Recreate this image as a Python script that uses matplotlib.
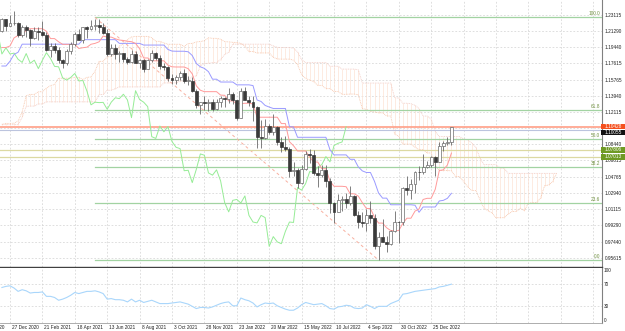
import matplotlib
matplotlib.use("Agg")
import matplotlib.pyplot as plt
import numpy as np
from matplotlib.patches import Rectangle
from matplotlib.transforms import blended_transform_factory, ScaledTranslation

plt.rcParams['font.family'] = ['Liberation Sans', 'DejaVu Sans']

# ---------------- data (weekly bars, week 0 = 27 Dec 2020) ----------------
first_week = -2
opens = [1.2120, 1.2255, 1.2185, 1.2215, 1.2220, 1.2075, 1.2170, 1.2135, 1.2045, 1.2120,
         1.2118, 1.2075, 1.1915, 1.1950, 1.1905, 1.1795, 1.1765, 1.1900, 1.1980, 1.2095,
         1.2020, 1.2165, 1.2145, 1.2180, 1.2190, 1.2165, 1.2105, 1.1865, 1.1935, 1.1865,
         1.1875, 1.1805, 1.1770, 1.1870, 1.1760, 1.1795, 1.1700, 1.1795, 1.1880, 1.1815,
         1.1725, 1.1720, 1.1595, 1.1570, 1.1600, 1.1645, 1.1560, 1.1565, 1.1445, 1.1290,
         1.1320, 1.1315, 1.1318, 1.1240, 1.1320, 1.1370, 1.1360, 1.1410, 1.1345, 1.1145,
         1.1450, 1.1350, 1.1320, 1.1270, 1.0930, 1.0910, 1.1050, 1.0985, 1.1045, 1.0875,
         1.0810, 1.0795, 1.0545, 1.0550, 1.0410, 1.0560, 1.0735, 1.0720, 1.0520, 1.0495,
         1.0555, 1.0430, 1.0185, 1.0080, 1.0210, 1.0220, 1.0180, 1.0260, 1.0040, 0.9965,
         0.9955, 1.0040, 1.0015, 0.9690, 0.9800, 0.9740, 0.9720, 0.9860, 0.9965, 0.9960,
         1.0355, 1.0325, 1.0400, 1.0535, 1.0530, 1.0585, 1.0615, 1.0705, 1.0645, 1.0830,
         1.0855, 1.0870]
highs = [1.2273, 1.2260, 1.2310, 1.2349, 1.2223, 1.2190, 1.2190, 1.2150, 1.2170, 1.2170,
         1.2243, 1.2114, 1.1990, 1.1990, 1.1945, 1.1805, 1.1927, 1.1995, 1.2115, 1.2150,
         1.2167, 1.2180, 1.2245, 1.2266, 1.2255, 1.2218, 1.2145, 1.1975, 1.1975, 1.1895,
         1.1880, 1.1835, 1.1910, 1.1900, 1.1805, 1.1805, 1.1810, 1.1910, 1.1885, 1.1850,
         1.1760, 1.1725, 1.1640, 1.1625, 1.1670, 1.1692, 1.1615, 1.1610, 1.1465, 1.1325,
         1.1385, 1.1355, 1.1360, 1.1360, 1.1385, 1.1375, 1.1483, 1.1440, 1.1350, 1.1483,
         1.1495, 1.1395, 1.1395, 1.1275, 1.1120, 1.1135, 1.1070, 1.1185, 1.1050, 1.0925,
         1.0935, 1.0810, 1.0640, 1.0575, 1.0605, 1.0765, 1.0785, 1.0775, 1.0600, 1.0605,
         1.0615, 1.0465, 1.0190, 1.0280, 1.0255, 1.0295, 1.0370, 1.0265, 1.0090, 1.0080,
         1.0115, 1.0200, 1.0050, 0.9855, 0.9999, 0.9810, 0.9875, 1.0095, 0.9980, 1.0365,
         1.0480, 1.0450, 1.0545, 1.0595, 1.0735, 1.0660, 1.0715, 1.0710, 1.0870, 1.0885,
         1.0930, 1.1045]
lows = [1.2115, 1.2130, 1.2180, 1.2195, 1.2055, 1.2054, 1.2060, 1.1952, 1.2035, 1.2023,
        1.2070, 1.1894, 1.1835, 1.1873, 1.1762, 1.1704, 1.1740, 1.1870, 1.1950, 1.2020,
        1.1985, 1.2050, 1.2140, 1.2135, 1.2105, 1.2095, 1.1845, 1.1847, 1.1807, 1.1780,
        1.1770, 1.1752, 1.1760, 1.1760, 1.1705, 1.1665, 1.1695, 1.1780, 1.1800, 1.1700,
        1.1685, 1.1565, 1.1530, 1.1525, 1.1570, 1.1535, 1.1513, 1.1430, 1.1250, 1.1185,
        1.1235, 1.1225, 1.1222, 1.1235, 1.1270, 1.1270, 1.1315, 1.1300, 1.1121, 1.1140,
        1.1345, 1.1280, 1.1105, 1.0805, 1.0805, 1.0900, 1.0960, 1.0945, 1.0835, 1.0760,
        1.0770, 1.0470, 1.0490, 1.0350, 1.0390, 1.0550, 1.0630, 1.0500, 1.0360, 1.0470,
        1.0365, 1.0070, 0.9952, 1.0075, 1.0095, 1.0125, 1.0160, 1.0035, 0.9900, 0.9910,
        0.9865, 0.9955, 0.9665, 0.9535, 0.9735, 0.9630, 0.9705, 0.9855, 0.9730, 0.9935,
        1.0270, 1.0225, 1.0290, 1.0445, 1.0505, 1.0575, 1.0590, 1.0480, 1.0640, 1.0765,
        1.0835, 1.0840]
closes = [1.2255, 1.2185, 1.2215, 1.2220, 1.2075, 1.2170, 1.2135, 1.2045, 1.2120, 1.2118,
          1.2075, 1.1915, 1.1950, 1.1905, 1.1795, 1.1765, 1.1900, 1.1980, 1.2095, 1.2020,
          1.2165, 1.2145, 1.2180, 1.2190, 1.2165, 1.2105, 1.1865, 1.1935, 1.1865, 1.1875,
          1.1805, 1.1770, 1.1870, 1.1760, 1.1795, 1.1700, 1.1795, 1.1880, 1.1815, 1.1725,
          1.1720, 1.1595, 1.1570, 1.1600, 1.1645, 1.1560, 1.1565, 1.1445, 1.1290, 1.1320,
          1.1315, 1.1318, 1.1240, 1.1320, 1.1370, 1.1360, 1.1410, 1.1345, 1.1145, 1.1450,
          1.1350, 1.1320, 1.1270, 1.0930, 1.0910, 1.1050, 1.0985, 1.1045, 1.0875, 1.0810,
          1.0795, 1.0545, 1.0550, 1.0410, 1.0560, 1.0735, 1.0720, 1.0520, 1.0495, 1.0555,
          1.0430, 1.0185, 1.0080, 1.0210, 1.0220, 1.0180, 1.0260, 1.0040, 0.9965, 0.9955,
          1.0040, 1.0015, 0.9690, 0.9800, 0.9740, 0.9720, 0.9860, 0.9965, 0.9960, 1.0355,
          1.0325, 1.0400, 1.0535, 1.0530, 1.0585, 1.0615, 1.0705, 1.0645, 1.0830, 1.0855,
          1.0870, 1.1043]

tenkan = [1.1938, 1.1938, 1.1956, 1.2047, 1.2075, 1.2075, 1.2137, 1.2151, 1.2151, 1.2151,
          1.2151, 1.2122, 1.2039, 1.2039, 1.2003, 1.1974, 1.1974, 1.1974, 1.1974, 1.1927,
          1.1936, 1.1942, 1.1975, 1.1985, 1.2003, 1.2068, 1.2056, 1.2056, 1.2037, 1.2023,
          1.2018, 1.2009, 1.2004, 1.1985, 1.1925, 1.1820, 1.1820, 1.1788, 1.1788, 1.1788,
          1.1788, 1.1738, 1.1720, 1.1718, 1.1718, 1.1718, 1.1699, 1.1640, 1.1505, 1.1455,
          1.1439, 1.1439, 1.1439, 1.1439, 1.1400, 1.1398, 1.1334, 1.1334, 1.1302, 1.1302,
          1.1308, 1.1308, 1.1300, 1.1150, 1.1150, 1.1150, 1.1150, 1.1150, 1.1150, 1.1078,
          1.1078, 1.0873, 1.0828, 1.0768, 1.0768, 1.0768, 1.0700, 1.0643, 1.0643, 1.0568,
          1.0568, 1.0428, 1.0369, 1.0369, 1.0369, 1.0364, 1.0284, 1.0284, 1.0258, 1.0183,
          1.0118, 1.0118, 1.0018, 0.9953, 0.9953, 0.9900, 0.9868, 0.9868, 0.9868, 0.9950,
          1.0008, 1.0008, 1.0088, 1.0113, 1.0220, 1.0233, 1.0233, 1.0335, 1.0548, 1.0555,
          1.0610, 1.0745]
kijun = [1.1729, 1.1729, 1.1783, 1.1860, 1.1885, 1.1976, 1.1976, 1.1976, 1.1976, 1.1976,
         1.1976, 1.1976, 1.1976, 1.1976, 1.1976, 1.1976, 1.1976, 1.1976, 1.1976, 1.1976,
         1.2027, 1.2027, 1.2027, 1.2027, 1.2027, 1.2027, 1.2027, 1.2027, 1.2027, 1.1985,
         1.1985, 1.1985, 1.1985, 1.1985, 1.1985, 1.1966, 1.1966, 1.1966, 1.1966, 1.1966,
         1.1966, 1.1916, 1.1898, 1.1896, 1.1896, 1.1896, 1.1890, 1.1848, 1.1758, 1.1720,
         1.1702, 1.1665, 1.1580, 1.1580, 1.1548, 1.1548, 1.1548, 1.1548, 1.1516, 1.1516,
         1.1516, 1.1516, 1.1508, 1.1345, 1.1328, 1.1283, 1.1265, 1.1249, 1.1249, 1.1249,
         1.1249, 1.1043, 1.1040, 1.0923, 1.0923, 1.0923, 1.0923, 1.0923, 1.0923, 1.0923,
         1.0923, 1.0783, 1.0724, 1.0724, 1.0724, 1.0724, 1.0674, 1.0674, 1.0588, 1.0543,
         1.0525, 1.0525, 1.0425, 1.0293, 1.0235, 1.0235, 1.0160, 1.0160, 1.0160, 1.0160,
         1.0160, 1.0160, 1.0155, 1.0075, 1.0135, 1.0135, 1.0135, 1.0135, 1.0203, 1.0210,
         1.0233, 1.0290]
span_a = [1.1070, 1.1080, 1.1080, 1.1083, 1.1106, 1.1210, 1.1392, 1.1408, 1.1408, 1.1438,
          1.1438, 1.1479, 1.1507, 1.1520, 1.1591, 1.1591, 1.1591, 1.1591, 1.1601, 1.1601,
          1.1576, 1.1601, 1.1605, 1.1672, 1.1782, 1.1782, 1.1834, 1.1834, 1.1870, 1.1954,
          1.1980, 1.2026, 1.2057, 1.2064, 1.2064, 1.2064, 1.2064, 1.2049, 1.2008, 1.2008,
          1.1990, 1.1975, 1.1975, 1.1975, 1.1975, 1.1952, 1.1982, 1.1985, 1.2001, 1.2006,
          1.2015, 1.2048, 1.2042, 1.2042, 1.2032, 1.2004, 1.2002, 1.1997, 1.1995, 1.1985,
          1.1955, 1.1893, 1.1893, 1.1877, 1.1877, 1.1877, 1.1877, 1.1827, 1.1809, 1.1807,
          1.1807, 1.1807, 1.1795, 1.1744, 1.1632, 1.1588, 1.1571, 1.1552, 1.1510, 1.1510,
          1.1474, 1.1473, 1.1441, 1.1441, 1.1409, 1.1409, 1.1412, 1.1412, 1.1404, 1.1248,
          1.1239, 1.1217, 1.1208, 1.1200, 1.1200, 1.1164, 1.1164, 1.0958, 1.0934, 1.0846,
          1.0846, 1.0846, 1.0812, 1.0783, 1.0783, 1.0746, 1.0746, 1.0606, 1.0547, 1.0547,
          1.0547, 1.0544, 1.0479, 1.0479, 1.0423, 1.0363, 1.0322, 1.0322, 1.0222, 1.0123,
          1.0094, 1.0068, 1.0014, 1.0014, 1.0014, 1.0055, 1.0084, 1.0084, 1.0122, 1.0094,
          1.0178, 1.0184, 1.0184, 1.0235, 1.0376, 1.0383, 1.0422, 1.0518]
span_b = [1.1066, 1.1066, 1.1066, 1.1066, 1.1066, 1.1148, 1.1273, 1.1276, 1.1276, 1.1300,
          1.1300, 1.1324, 1.1324, 1.1324, 1.1324, 1.1324, 1.1324, 1.1324, 1.1324, 1.1324,
          1.1324, 1.1324, 1.1324, 1.1324, 1.1407, 1.1407, 1.1455, 1.1455, 1.1473, 1.1493,
          1.1493, 1.1493, 1.1493, 1.1493, 1.1493, 1.1493, 1.1493, 1.1493, 1.1493, 1.1493,
          1.1538, 1.1538, 1.1538, 1.1538, 1.1558, 1.1558, 1.1562, 1.1610, 1.1617, 1.1730,
          1.1759, 1.1759, 1.1767, 1.1767, 1.1802, 1.1860, 1.1885, 1.1976, 1.1976, 1.1976,
          1.1976, 1.1976, 1.1976, 1.1976, 1.1976, 1.1976, 1.1976, 1.1957, 1.1940, 1.1937,
          1.1937, 1.1937, 1.1931, 1.1890, 1.1800, 1.1767, 1.1767, 1.1767, 1.1767, 1.1767,
          1.1767, 1.1726, 1.1726, 1.1726, 1.1694, 1.1694, 1.1694, 1.1694, 1.1686, 1.1536,
          1.1536, 1.1536, 1.1536, 1.1536, 1.1536, 1.1536, 1.1536, 1.1368, 1.1368, 1.1308,
          1.1308, 1.1303, 1.1284, 1.1248, 1.1163, 1.1163, 1.1130, 1.0990, 1.0931, 1.0931,
          1.0931, 1.0931, 1.0931, 1.0931, 1.0905, 1.0893, 1.0858, 1.0813, 1.0695, 1.0614,
          1.0614, 1.0614, 1.0614, 1.0575, 1.0573, 1.0515, 1.0515, 1.0515, 1.0515, 1.0515,
          1.0515, 1.0515, 1.0515, 1.0515, 1.0515, 1.0515, 1.0515, 1.0515]
chikou_shift = 26

rsi = [64, 66, 67, 63, 57, 60, 58, 54, 55, 55, 56, 48, 48, 46, 41, 43, 46, 50, 55, 53,
       55, 57, 57, 58, 56, 53, 43, 44, 42, 42, 41, 38, 43, 38, 41, 37, 39, 41, 38, 35,
       35, 35, 36, 37, 38, 36, 34, 30, 26, 28, 28, 27, 29, 32, 35, 37, 38, 31, 31, 45,
       42, 40, 36, 29, 33, 36, 35, 36, 31, 28, 25, 23, 23, 27, 33, 37, 35, 33, 34, 35,
       31, 26, 25, 29, 30, 32, 31, 27, 26, 27, 33, 30, 26, 30, 30, 30, 35, 38, 41, 52,
       53, 55, 57, 58, 59, 60, 61, 62, 65, 66, 68, 70]

fib_high, fib_low = 1.2278, 0.9535
fib_start_week, fib_end_week = 21, 91
fib_levels = [0.0, 23.6, 38.2, 50.0, 61.8, 100.0]
fib_labels = ["0.0", "23.6", "38.2", "50.0", "61.8", "100.0"]

bid_price, bid_label = 1.10428, "1.10428"
line2_price, line2_label = 1.10055, "1.10055"
hlines_prices = [1.07806, 1.07013]
hlines_labels = ["1.07806", "1.07013"]

price_ticks = [1.23115, 1.21290, 1.19440, 1.17615, 1.15765, 1.13940, 1.12115, 1.10290,
               1.08440, 1.06615, 1.04765, 1.02940, 1.01115, 0.99290, 0.97440, 0.95615]
# the 1.10290 label sits under the current-price box in the reference, so it is not shown
price_tick_labels = ["1.23115", "1.21290", "1.19440", "1.17615", "1.15765", "1.13940",
                     "1.12115", "", "1.08440", "1.06615", "1.04765", "1.02940",
                     "1.01115", "0.99290", "0.97440", "0.95615"]
rsi_ticks = [100, 70, 30, 0]
rsi_tick_labels = ["100", "70", "30", "0"]
date_weeks = [-8, 0, 8, 16, 24, 32, 40, 48, 56, 64, 72, 80, 88, 96, 104]
date_labels = ["1 Nov 2020", "27 Dec 2020", "21 Feb 2021", "18 Apr 2021", "13 Jun 2021",
               "8 Aug 2021", "3 Oct 2021", "28 Nov 2021", "23 Jan 2022", "20 Mar 2022",
               "15 May 2022", "10 Jul 2022", "4 Sep 2022", "30 Oct 2022", "25 Dec 2022"]
grid_weeks = list(range(-8, 145, 8))

# ---------------- figure ----------------
W, H = 625, 331
fig = plt.figure(figsize=(W / 100, H / 100), dpi=100)
fig.patch.set_facecolor('white')
ax_right = 602 / W
main_bottom = 266.7
ax = fig.add_axes([0, 1 - main_bottom / H, ax_right, main_bottom / H])
ax2 = fig.add_axes([0, 1 - 323 / H, ax_right, (323 - 267.5) / H])

FS = 3.4
grid_kw = dict(color='#d2d2d2', lw=0.5, ls=(0, (2.5, 2.5)), zorder=0)

weeks = np.arange(first_week, first_week + len(closes))
cloud_weeks = np.arange(first_week, first_week + len(span_a))
XLIM = (-10 / 4.05, (602 - 10) / 4.05)

for a in (ax, ax2):
    a.set_facecolor('white')
    for s in ('left', 'top'):
        a.spines[s].set_visible(False)
    a.spines['right'].set_color('#808080')
    a.spines['right'].set_linewidth(0.8)
    a.set_xticks(grid_weeks)
    a.tick_params(axis='x', length=0, labelbottom=False)
    a.yaxis.tick_right()
    a.tick_params(axis='y', length=0, pad=2, labelsize=FS, colors='#202020')
    for gw in grid_weeks:
        a.axvline(gw, **grid_kw)

ax.spines['bottom'].set_color('#404040')
ax.spines['bottom'].set_linewidth(1.0)
ax2.spines['bottom'].set_color('#a0a0a0')
ax2.spines['bottom'].set_linewidth(0.6)

ax.set_yticks(price_ticks)
ax.set_yticklabels(price_tick_labels)
for p in price_ticks:
    ax.axhline(p, **grid_kw)

# Ichimoku cloud
sa = np.array(span_a)
sb = np.array(span_b)
ax.vlines(cloud_weeks, np.minimum(sa, sb), np.maximum(sa, sb), colors='#fde3d5', lw=0.5, zorder=1)
ax.plot(cloud_weeks, sa, color='#f7c2a6', lw=0.6, ls=(0, (1, 1)), zorder=1.2)
ax.plot(cloud_weeks, sb, color='#f2c8c0', lw=0.6, ls=(0, (1, 1)), zorder=1.2)

# fibonacci
rng = fib_high - fib_low
bt = blended_transform_factory(ax.transAxes, ax.transData)
for lev, lab in zip(fib_levels, fib_labels):
    p = fib_low + rng * lev / 100.0
    ax.plot([fib_start_week, XLIM[1]], [p, p], color='#a2d3a2', lw=0.9, zorder=2)
    ax.text(0.997, p + 0.0012, lab, transform=bt, ha='right', va='bottom',
            fontsize=FS, color='#6f8f3f', zorder=6)
ax.plot([fib_start_week, fib_end_week], [fib_high, fib_low], color='#f8b0a0', lw=0.7,
        ls=(0, (3, 3)), zorder=2)

# horizontal lines
ax.axhline(bid_price, color='#ff9e86', lw=1.2, zorder=2)
ax.axhline(line2_price, color='#bcc4de', lw=0.8, zorder=2)
for p in hlines_prices:
    ax.axhline(p, color='#dcd9a2', lw=0.9, zorder=2)

# ichimoku lines
ax.plot(weeks - chikou_shift, closes, color='#96ec96', lw=0.7, zorder=3)
ax.plot(weeks, kijun, color='#9a9aff', lw=0.7, zorder=3)
ax.plot(weeks, tenkan, color='#ff9a9a', lw=0.7, zorder=3)

# candles
o = np.array(opens); c = np.array(closes); hi = np.array(highs); lo = np.array(lows)
ax.vlines(weeks, lo, hi, colors='#6a6a6a', lw=0.6, zorder=4)
up = c >= o
body_h = np.maximum(np.abs(c - o), 0.0006)
ax.bar(weeks[up], body_h[up], bottom=np.minimum(o, c)[up], width=0.72,
       color='white', edgecolor='#6a6a6a', linewidth=0.5, zorder=5)
ax.bar(weeks[~up], body_h[~up], bottom=np.minimum(o, c)[~up], width=0.72,
       color='#3a3a3a', edgecolor='#3a3a3a', linewidth=0.5, zorder=5)

ax.set_xlim(XLIM)
ax.set_ylim(0.94597, 1.24755)

# price boxes on right axis
box_w = (W - 601) / 602
box_h = 5.6 / 884.3

def price_box(price, text, face, tcolor='white'):
    ax.add_patch(Rectangle((0.998, price - box_h / 2), box_w, box_h, transform=bt,
                           facecolor=face, edgecolor='none', clip_on=False, zorder=10))
    ax.text(1.0 + 2.5 / 602, price, text, transform=bt, ha='left', va='center',
            fontsize=FS, color=tcolor, zorder=11, clip_on=False)

price_box(bid_price - 5.8 / 884.3, line2_label, '#111111')
price_box(bid_price, bid_label, '#f5501e')
for p, lab in zip(hlines_prices, hlines_labels):
    price_box(p, lab, '#6f9a24')

# lower panel (RSI)
ax2.set_yticks(rsi_ticks)
ax2.set_yticklabels([])
for v in (70, 30):
    ax2.axhline(v, **grid_kw)
bt2 = blended_transform_factory(ax2.transAxes, ax2.transData)
for v, lab in zip(rsi_ticks, rsi_tick_labels):
    va = 'top' if v == 100 else ('bottom' if v == 0 else 'center')
    ax2.text(1.0 + 2 / 602, v, lab, transform=bt2, ha='left', va=va, fontsize=FS, color='#202020')
ax2.plot(weeks, rsi, color='#a9d6fb', lw=0.8, zorder=3)
ax2.set_xlim(XLIM)
ax2.set_ylim(0, 100)

# date labels
off = ScaledTranslation(2 / 100, -4.5 / 100, fig.dpi_scale_trans)
bx = blended_transform_factory(ax2.transData, ax2.transAxes)
for w, lab in zip(date_weeks, date_labels):
    ax2.text(w, 0, lab, transform=bx + off, ha='left', va='center', fontsize=FS,
             color='#202020', clip_on=False)

fig.savefig('out.png', dpi=100, facecolor='white')
